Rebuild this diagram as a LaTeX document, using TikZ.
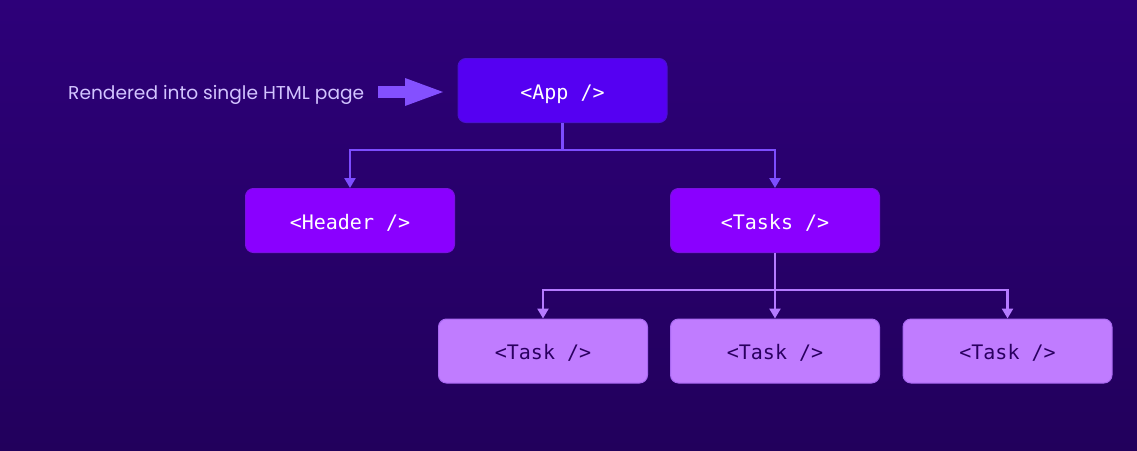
\documentclass[tikz,border=0pt]{standalone}
\usepackage{fontspec}
\setmainfont{Poppins}
\newfontfamily\codefont{DejaVu Sans Mono}
\usetikzlibrary{arrows.meta}
\definecolor{bgtop}{HTML}{2D0079}
\definecolor{bgbot}{HTML}{22005C}
\definecolor{appfill}{HTML}{5500F2}
\definecolor{appdraw}{HTML}{4A10D0}
\definecolor{midfill}{HTML}{8A00FF}
\definecolor{middraw}{HTML}{7A10E0}
\definecolor{leaffill}{HTML}{C07CFF}
\definecolor{leafdraw}{HTML}{A868F0}
\definecolor{linetop}{HTML}{7D4DFF}
\definecolor{linebot}{HTML}{B57BFF}
\definecolor{labeltext}{HTML}{D2C4FF}
\definecolor{leaftext}{HTML}{2A0060}
\definecolor{bigarrow}{HTML}{8450FF}
\tikzset{
  comp/.style={rectangle, rounded corners=8pt, minimum width=209pt, minimum height=64pt, line width=1pt, font=\codefont\fontsize{20}{22}\selectfont, inner sep=0pt, text height=17pt, text depth=0pt},
  appbox/.style={comp, fill=appfill, draw=appdraw, text=white},
  midbox/.style={comp, fill=midfill, draw=middraw, text=white},
  leafbox/.style={comp, fill=leaffill, draw=leafdraw, text=leaftext},
  topline/.style={draw=linetop, line width=2.4pt, -{Triangle[length=10pt,width=11pt]}},
  botline/.style={draw=linebot, line width=2.4pt, -{Triangle[length=10pt,width=11pt]}},
}
\begin{document}
\begin{tikzpicture}[x=1pt,y=-1pt]
\shade[top color=bgtop, bottom color=bgbot] (0,0) rectangle (1137,450);
\useasboundingbox (0,0) rectangle (1137,450);
\node[appbox] (app) at (562.5,90.5) {<App />};
\node[midbox] (header) at (350,220.5) {<Header />};
\node[midbox] (tasks) at (775,220.5) {<Tasks />};
\node[leafbox] (t1) at (543,351) {<Task />};
\node[leafbox] (t2) at (775,351) {<Task />};
\node[leafbox] (t3) at (1007.5,351) {<Task />};
\node[anchor=base west, text=labeltext, font=\fontsize{18.6}{22}\selectfont, inner sep=0pt] (lbl) at (68,99) {Rendered into single HTML page};
\coordinate (arrA) at (378,92);
\coordinate (arrB) at (443,92);
\draw[bigarrow, line width=12pt, -{Triangle[length=38pt,width=28pt,line width=0pt]}] (arrA) -- (arrB);
\draw[topline] (app.south) -- ++(0,27) -| (header.north);
\draw[topline] (app.south) -- ++(0,27) -| (tasks.north);
\draw[botline] (tasks.south) -- ++(0,37) -| (t1.north);
\draw[botline] (tasks.south) -- (t2.north);
\draw[botline] (tasks.south) -- ++(0,37) -| (t3.north);
\end{tikzpicture}
\end{document}
